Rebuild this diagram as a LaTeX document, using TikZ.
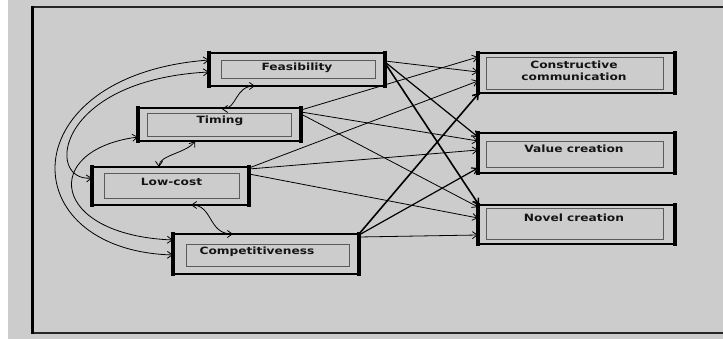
\documentclass[tikz,border=0pt]{standalone}
\usepackage{fontspec}
\usetikzlibrary{calc,arrows.meta}
\newfontfamily\lblfont[FakeStretch=1.22]{DejaVu Sans Bold}
\definecolor{bg}{HTML}{CCCCCC}
\definecolor{innerline}{HTML}{5A5A5A}
\definecolor{txt}{HTML}{141414}
\tikzset{
  outerbox/.style={draw=black, line width=1.8pt, fill=bg, inner sep=0pt, outer sep=0pt, minimum width=#1},
  innerbox/.style={draw=innerline, line width=0.9pt, inner sep=0pt, outer sep=0pt, minimum width=#1},
  lbl/.style={font=\lblfont\fontsize{10}{12.5}\selectfont, text=txt, inner sep=0pt, align=center},
  thin arr/.style={line width=0.8pt, -{Straight Barb[length=5pt,width=7pt]}},
  mid arr/.style={line width=1.2pt, -{Straight Barb[length=5pt,width=7pt]}},
  thick arr/.style={line width=1.6pt, -{Straight Barb[length=5pt,width=7pt]}},
  both arr/.style={line width=0.8pt, {Straight Barb[length=5pt,width=7pt]}-{Straight Barb[length=5pt,width=7pt]}},
  sidebar/.style={line width=3.5pt, line cap=rect}
}
\begin{document}
\begin{tikzpicture}[x=1pt,y=-1pt]
\useasboundingbox (0,0) rectangle (723,339);
\fill[white] (0,0) rectangle (8,339);
\fill[bg] (8,0) rectangle (723,339);
% frame
\draw[line width=1.6pt, black!85] (723,7) -- (32,7) -- (32,333) -- (723,333);
\draw[line width=3pt] (32,6) -- (32,334);

% outer boxes
\node[outerbox=176pt, minimum height=33pt] (feas) at (297,69.5) {};
\node[outerbox=163pt, minimum height=33pt] (tim) at (219.5,124.5) {};
\node[outerbox=157pt, minimum height=38pt] (low) at (170.5,186) {};
\node[outerbox=186pt, minimum height=40pt] (comp) at (266,254) {};
\node[outerbox=197pt, minimum height=40pt] (cons) at (576.5,73) {};
\node[outerbox=197pt, minimum height=40pt] (val) at (576.5,153) {};
\node[outerbox=197pt, minimum height=39pt] (nov) at (576.5,224.5) {};

% thick sides
\foreach \n in {feas,tim,low,comp,cons,val,nov}{
  \draw[sidebar] (\n.north west) -- (\n.south west);
  \draw[sidebar] (\n.north east) -- (\n.south east);
}

% inner boxes
\node[innerbox=154pt, minimum height=18pt] (feasIn) at (298,69) {};
\node[innerbox=144pt, minimum height=23pt] (timIn) at (219,124.5) {};
\node[innerbox=135pt, minimum height=25pt] (lowIn) at (171.5,185.5) {};
\node[innerbox=163pt, minimum height=22pt] (compIn) at (267.5,255) {};
\node[innerbox=177pt, minimum height=32pt] (consIn) at (574.5,73) {};
\node[innerbox=177pt, minimum height=26pt] (valIn) at (574.5,154) {};
\node[innerbox=177pt, minimum height=31pt] (novIn) at (574.5,223.5) {};

% labels
\node[lbl] (feasT) at (297,68) {Feasibility};
\node[lbl] (timT) at (220,121) {Timing};
\node[lbl] (lowT) at (171.5,182) {Low-cost};
\node[lbl] (compT) at (257,252) {Competitiveness};
\node[lbl] (consT) at (574,71) {Constructive\\communication};
\node[lbl] (valT) at (574,149) {Value creation};
\node[lbl] (novT) at (574,217.5) {Novel creation};

% straight arrows
\draw[thin arr] ($(feas.north east)+(0,8)$) -- ($(cons.north west)+(0,19)$);
\draw[mid arr] ($(feas.north east)+(0,9)$) -- ($(val.north west)+(0,4)$);
\draw[thick arr] ($(feas.north east)+(0,10)$) -- ($(nov.north west)+(1,0)$);
\draw[thin arr] ($(tim.north east)+(0,2)$) -- ($(cons.north west)+(0,4)$);
\draw[thin arr] ($(tim.north east)+(0,4)$) -- ($(val.north west)+(0,8)$);
\draw[thin arr] ($(tim.north east)+(0,6)$) -- ($(nov.north west)+(0,2)$);
\draw[thin arr] ($(low.north east)+(0,1)$) -- ($(cons.north west)+(0,28)$);
\draw[thin arr] ($(low.north east)+(0,2)$) -- ($(val.north west)+(0,17)$);
\draw[thin arr] ($(low.north east)+(0,7)$) -- ($(nov.north west)+(0,13)$);
\draw[thick arr] (comp.north east) -- ($(cons.south west)+(1,0)$);
\draw[mid arr] ($(comp.north east)+(0,1)$) -- ($(val.south west)+(0,-5)$);
\draw[thin arr] ($(comp.north east)+(0,3)$) -- ($(nov.north west)+(0,30)$);

% curved double arrows
\draw[both arr] ($(comp.north west)+(0,21)$) .. controls +(-163,-5) and +(-198,15) .. ($(feas.north west)+(0,7)$);
\draw[both arr] ($(low.north west)+(0,11)$) .. controls +(-47,4) and +(-154,8) .. ($(feas.north west)+(0,19)$);
\draw[both arr] ($(tim.north west)+(0,29)$) .. controls +(-98,13) and +(-123,-5) .. ($(comp.north west)+(0,6)$);
\draw[both arr] ($(tim.north west)+(84,1)$) .. controls +(15,0) and +(-20,0) .. ($(feas.south west)+(46,0)$);
\draw[both arr] ($(low.north west)+(67,0)$) .. controls +(0,-12) and +(-8,12) .. ($(tim.south west)+(57,0)$);
\draw[both arr] ($(low.south west)+(99,0)$) .. controls +(22,0) and +(-25,0) .. ($(comp.north west)+(60,0)$);
\end{tikzpicture}
\end{document}
